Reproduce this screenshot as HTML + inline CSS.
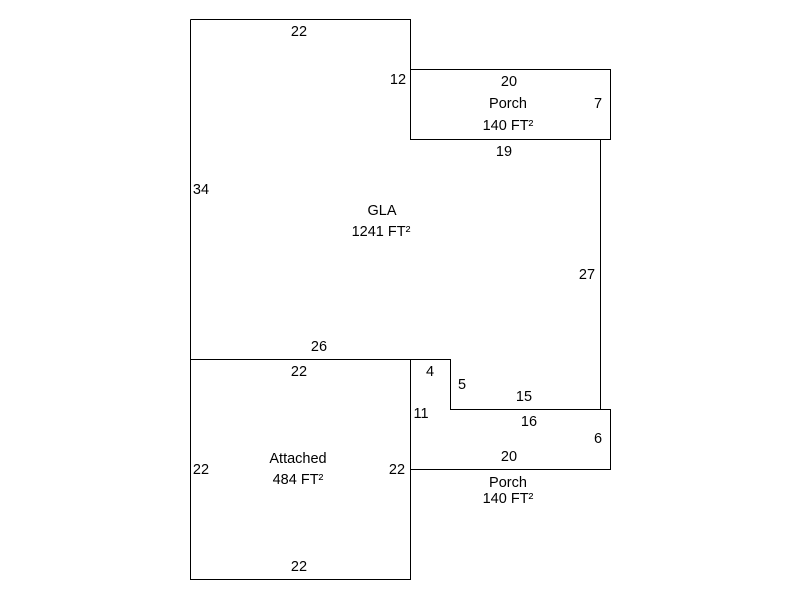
<!DOCTYPE html>
<html>
<head>
<meta charset="utf-8">
<style>
  html, body { margin: 0; padding: 0; background: #ffffff; }
  svg { display: block; }
  text { font-family: "Liberation Sans", Arial, sans-serif; font-size: 14.5px; fill: #000; }
</style>
</head>
<body>
<svg width="800" height="600" viewBox="0 0 800 600" xmlns="http://www.w3.org/2000/svg">
  <rect x="0" y="0" width="800" height="600" fill="#ffffff"/>
  <g fill="none" stroke="#000" stroke-width="1" shape-rendering="crispEdges">
    <polyline points="190.5,19.5 410.5,19.5 410.5,139.5 600.5,139.5 600.5,409.5 450.5,409.5 450.5,359.5 190.5,359.5 190.5,19.5"/>
    <rect x="410.5" y="69.5" width="200" height="70"/>
    <polyline points="450.5,409.5 610.5,409.5 610.5,469.5 410.5,469.5"/>
    <rect x="190.5" y="359.5" width="220" height="220"/>
  </g>
  <g text-anchor="middle">
    <text x="299" y="36">22</text>
    <text x="398" y="84">12</text>
    <text x="509" y="86">20</text>
    <text x="508" y="108">Porch</text>
    <text x="508" y="130">140 FT²</text>
    <text x="598" y="108">7</text>
    <text x="504" y="156">19</text>
    <text x="201" y="194">34</text>
    <text x="382" y="215">GLA</text>
    <text x="381" y="236">1241 FT²</text>
    <text x="587" y="279">27</text>
    <text x="319" y="351">26</text>
    <text x="299" y="376">22</text>
    <text x="430" y="376">4</text>
    <text x="462" y="389">5</text>
    <text x="524" y="401">15</text>
    <text x="421" y="418">11</text>
    <text x="529" y="426">16</text>
    <text x="598" y="443">6</text>
    <text x="509" y="461">20</text>
    <text x="201" y="474">22</text>
    <text x="298" y="463">Attached</text>
    <text x="298" y="484">484 FT²</text>
    <text x="397" y="474">22</text>
    <text x="508" y="487">Porch</text>
    <text x="508" y="503">140 FT²</text>
    <text x="299" y="571">22</text>
  </g>
</svg>
</body>
</html>
